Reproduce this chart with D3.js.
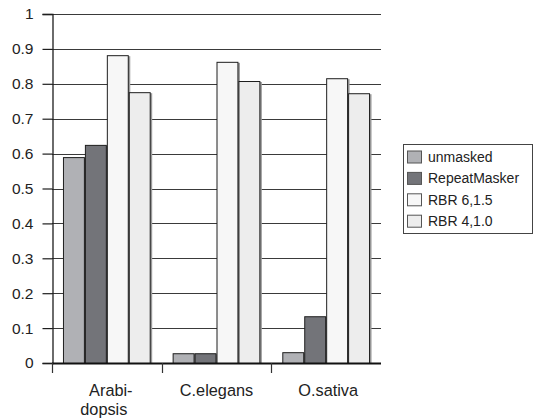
<!DOCTYPE html>
<html>
<head>
<meta charset="utf-8">
<script src="https://cdn.jsdelivr.net/npm/d3@7"></script>
<style>
  body { margin: 0; background: #fff; }
  text { font-family: "Liberation Sans", Arial, sans-serif; fill: #222; }
</style>
</head>
<body>
<svg id="draw"></svg>
<script>
// chart data
var categories = [["Arabi-", "dopsis"], ["C.elegans"], ["O.sativa"]];
var series = ["unmasked", "RepeatMasker", "RBR 6,1.5", "RBR 4,1.0"];
var unmasked = [0.590, 0.028, 0.031];
var repeatMasker = [0.625, 0.028, 0.134];
var rbr615 = [0.882, 0.863, 0.816];
var rbr410 = [0.776, 0.808, 0.773];
var yTicks = [0, 0.1, 0.2, 0.3, 0.4, 0.5, 0.6, 0.7, 0.8, 0.9, 1];

var values = [unmasked, repeatMasker, rbr615, rbr410];
var colors = ["#b0b1b5", "#737479", "#f7f7f7", "#ededed"];

var width = 533, height = 419;
var margin = {left: 52, right: 152, top: 14, bottom: 56};

var svg = d3.select("#draw")
  .attr("width", width)
  .attr("height", height);

var x = d3.scaleBand()
  .domain(d3.range(categories.length))
  .range([margin.left, width - margin.right]);

var xInner = d3.scaleBand()
  .domain(d3.range(series.length))
  .range([0, x.bandwidth()])
  .paddingOuter(0.5)
  .paddingInner(0);

var y = d3.scaleLinear()
  .domain([0, 1])
  .range([height - margin.bottom, margin.top]);

// gridlines
svg.append("g")
  .selectAll("line")
  .data(yTicks.slice(1))
  .enter().append("line")
  .attr("x1", margin.left)
  .attr("x2", width - margin.right)
  .attr("y1", d => Math.round(y(d)) + 0.5)
  .attr("y2", d => Math.round(y(d)) + 0.5)
  .attr("stroke", "#3a3a3a")
  .attr("stroke-width", 1.2);

// bars
var groups = svg.append("g")
  .selectAll("g")
  .data(categories)
  .enter().append("g")
  .attr("transform", (d, i) => "translate(" + x(i) + ",0)");

groups.each(function(c, ci) {
  var g = d3.select(this);
  series.forEach(function(s, si) {
    var v = values[si][ci];
    // shadow
    g.append("rect")
      .attr("x", xInner(si) + 1.5)
      .attr("y", y(v) + 1)
      .attr("width", xInner.bandwidth())
      .attr("height", y(0) - y(v) - 1)
      .attr("fill", "#9a9a9a");
    g.append("rect")
      .attr("x", xInner(si) + 0.5)
      .attr("y", y(v) + 0.5)
      .attr("width", xInner.bandwidth() - 1)
      .attr("height", y(0) - y(v))
      .attr("fill", colors[si])
      .attr("stroke", "#1e1e1e")
      .attr("stroke-width", 1);
  });
});

// y axis
var yAxis = svg.append("g")
  .attr("transform", "translate(" + (margin.left + 0.5) + ",0)")
  .call(d3.axisLeft(y).tickValues(yTicks).tickSize(10).tickPadding(9)
    .tickFormat(d => d === 0 ? "0" : d3.format("")(d)));
yAxis.select(".domain").attr("stroke", "#1e1e1e").attr("stroke-width", 1.3);
yAxis.selectAll(".tick line").attr("stroke", "#1e1e1e").attr("stroke-width", 1.2);
yAxis.selectAll(".tick text").attr("font-size", 15.5).attr("fill", "#222")
  .attr("font-family", "'Liberation Sans', Arial, sans-serif");

// x axis
var xAxisG = svg.append("g");
xAxisG.append("line")
  .attr("x1", margin.left)
  .attr("x2", width - margin.right)
  .attr("y1", y(0) + 0.5)
  .attr("y2", y(0) + 0.5)
  .attr("stroke", "#111")
  .attr("stroke-width", 2);
xAxisG.selectAll(".xtick")
  .data(d3.range(categories.length))
  .enter().append("line")
  .attr("x1", d => Math.round(x(d)) + 0.5)
  .attr("x2", d => Math.round(x(d)) + 0.5)
  .attr("y1", y(0))
  .attr("y2", y(0) + 10)
  .attr("stroke", "#333")
  .attr("stroke-width", 1.2);

var labels = xAxisG.selectAll(".xlabel")
  .data(categories)
  .enter().append("text")
  .attr("text-anchor", "middle")
  .attr("font-size", 16.3)
  .attr("x", (d, i) => x(i) + x.bandwidth() / 2 + (i === 2 ? 2 : 0))
  .attr("y", y(0) + 33);
labels.selectAll("tspan")
  .data(d => d)
  .enter().append("tspan")
  .attr("x", function(d, i) { return +this.parentNode.getAttribute("x") + (d === "Arabi-" ? 4 : (d === "dopsis" ? -3 : 0)); })
  .attr("dy", (d, i) => i === 0 ? 0 : 19)
  .text(d => d);

// legend
var legend = svg.append("g")
  .attr("transform", "translate(403,144)");
legend.append("rect")
  .attr("x", 0.5).attr("y", 0.5)
  .attr("width", 129).attr("height", 89)
  .attr("fill", "#fff")
  .attr("stroke", "#444")
  .attr("stroke-width", 1);
var item = legend.selectAll(".item")
  .data(series)
  .enter().append("g")
  .attr("transform", (d, i) => "translate(4," + (6.5 + i * 21.4) + ")");
item.append("rect")
  .attr("x", 0.5).attr("y", 0.5)
  .attr("width", 14).attr("height", 12)
  .attr("fill", (d, i) => colors[i])
  .attr("stroke", "#555");
item.append("text")
  .attr("x", 21)
  .attr("y", 11.5)
  .attr("font-size", 14)
  .text(d => d);
</script>
</body>
</html>
